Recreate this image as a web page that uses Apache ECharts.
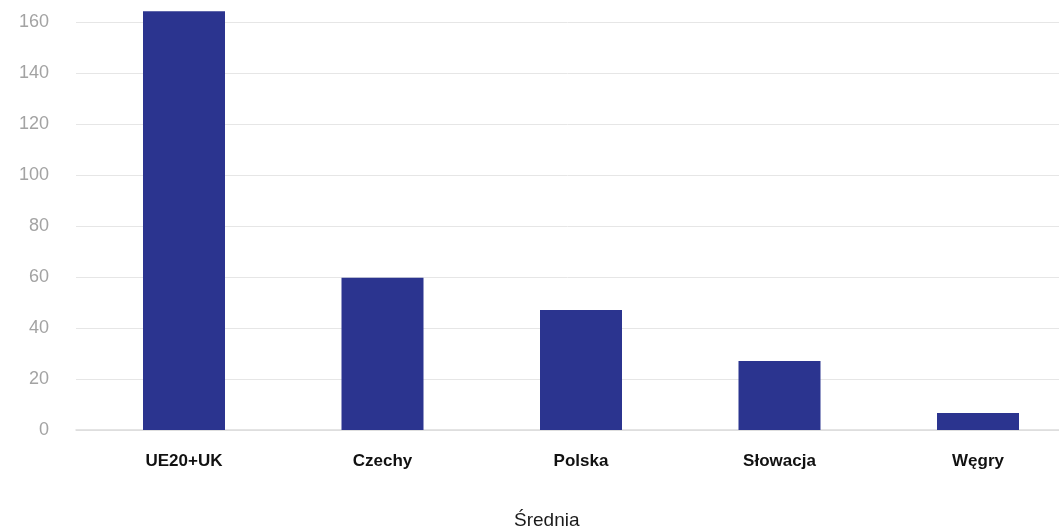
<!DOCTYPE html>
<html>
<head>
<meta charset="utf-8">
<script src="https://cdn.jsdelivr.net/npm/echarts@6/dist/echarts.min.js"></script>
<style>
html,body{margin:0;padding:0;background:#fff;}
#chart{width:1059px;height:531px;}
</style>
</head>
<body>
<div id="chart"></div>
<script>
var categories = ['UE20+UK', 'Czechy', 'Polska', 'Słowacja', 'Węgry'];
var values = [164.2, 59.7, 47.1, 27.1, 6.7];
var yMin = 0, yMax = 160, yStep = 20;
var titleText = 'Średnia';

var chart = echarts.init(document.getElementById('chart'), null, {renderer: 'canvas'});
var font = '"Liberation Sans", Arial, sans-serif';
chart.setOption({
  animation: false,
  backgroundColor: '#ffffff',
  title: {
    text: titleText,
    left: 514,
    top: 511,
    padding: 0,
    textStyle: {fontFamily: font, fontSize: 19, fontWeight: 'normal', color: '#1a1a1a'}
  },
  grid: [
    {left: 76, right: 0, top: 22, bottom: 101, containLabel: false},
    {left: 184, right: 81, top: 22, bottom: 101, containLabel: false}
  ],
  xAxis: [
    {
      gridIndex: 0, type: 'category', data: categories,
      axisLine: {show: true, lineStyle: {color: '#dcdcdc', width: 1.5}},
      axisTick: {show: false}, axisLabel: {show: false}, splitLine: {show: false}
    },
    {
      gridIndex: 1, type: 'category', data: categories, boundaryGap: false,
      axisLine: {show: false}, axisTick: {show: false},
      axisLabel: {margin: 23, fontFamily: font, fontSize: 17, fontWeight: 'bold', color: '#111111'}
    }
  ],
  yAxis: [
    {
      gridIndex: 0, type: 'value', min: yMin, max: yMax, interval: yStep,
      axisLine: {show: false}, axisTick: {show: false},
      axisLabel: {margin: 27, fontFamily: font, fontSize: 18, color: '#a3a3a3'},
      splitLine: {show: true, lineStyle: {color: '#e6e6e6', width: 1}}
    },
    {
      gridIndex: 1, type: 'value', min: yMin, max: yMax, interval: yStep,
      axisLine: {show: false}, axisTick: {show: false},
      axisLabel: {show: false}, splitLine: {show: false}
    }
  ],
  series: [{
    type: 'bar',
    xAxisIndex: 1, yAxisIndex: 1,
    data: values,
    barWidth: 82,
    clip: false,
    itemStyle: {color: '#2b348f'},
    z: 5
  }]
});
</script>
</body>
</html>
